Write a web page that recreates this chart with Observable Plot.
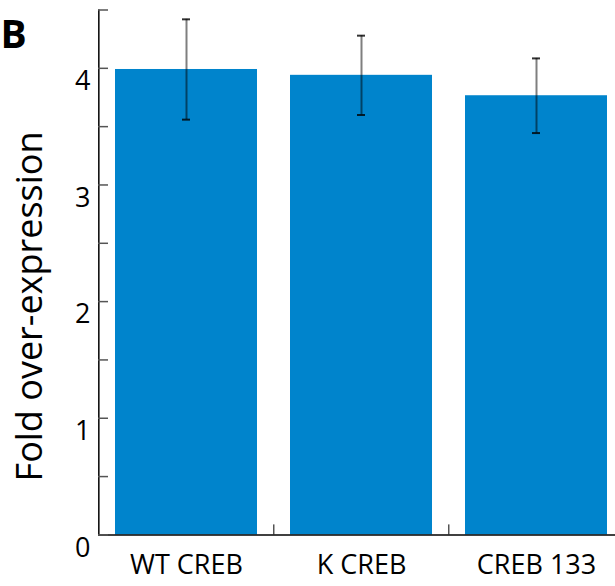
<!DOCTYPE html>
<html><head><meta charset="utf-8">
<script src="https://cdn.jsdelivr.net/npm/d3@7"></script>
<script src="https://cdn.jsdelivr.net/npm/@observablehq/plot@0.6"></script>
<style>html,body{margin:0;padding:0;background:#fff;overflow:hidden}</style>
</head><body><div id="chart"></div>
<script>
const categories = ["WT CREB", "K CREB", "CREB 133"];
const means = [3.99, 3.94, 3.765];
const errors = [0.43, 0.34, 0.32];
const yTickLabels = [0, 1, 2, 3, 4];
const yTicksAll = [0, 0.5, 1, 1.5, 2, 2.5, 3, 3.5, 4, 4.5];
const panelLabel = "B";
const yTitle = "Fold over-expression";

const data = categories.map((c, i) => ({category: c, value: means[i], lo: means[i] - errors[i], hi: means[i] + errors[i]}));

const W = 615, H = 586, mL = 98, mT = 9.5, mB = 51.6;
const xRange = [98, 624];
const step = (xRange[1] - xRange[0]) / categories.length;
const frameW = W - mL;
const tickLenUnits = 10 / ((H - mT - mB) / 4.5);

const chart = Plot.plot({
  width: W, height: H,
  marginLeft: mL, marginRight: 0, marginTop: mT, marginBottom: mB,
  style: {fontFamily: "Open Sans", fontSize: "26px", color: "black", background: "white"},
  x: {domain: categories, range: xRange, paddingInner: 0.19, paddingOuter: 0.095, label: null},
  y: {domain: [0, 4.5], label: null},
  marks: [
    Plot.barY(data, {x: "category", y: "value", fill: "#0084CC"}),
    Plot.ruleY([0], {stroke: "black", strokeWidth: 1.5}),
    Plot.ruleX(categories.slice(0, 1), {x: d => d, y1: 0, y2: 4.5, dx: -step / 2, stroke: "black", strokeWidth: 1.5}),
    Plot.ruleX(categories.slice(1), {x: d => d, y1: 0, y2: tickLenUnits, dx: -step / 2, stroke: "black"}),
    Plot.tickY(yTicksAll, {y: d => d, insetRight: frameW - 10, stroke: "#555", strokeWidth: 1.5}),
    Plot.ruleX(data, {x: "category", y1: "lo", y2: "hi", stroke: "black", strokeOpacity: 0.5, strokeWidth: 2}),
    Plot.tickY(data, {x: "category", y: "lo", insetLeft: 67, insetRight: 67, stroke: "black", strokeWidth: 2, strokeOpacity: 0.8}),
    Plot.tickY(data, {x: "category", y: "hi", insetLeft: 67, insetRight: 67, stroke: "black", strokeWidth: 2, strokeOpacity: 0.8}),
    Plot.axisY(yTickLabels, {tickSize: 0, tickPadding: 8, dy: 13, tickFormat: d3.format("d"), fontSize: 27}),
    Plot.axisX({tickSize: 0, tickPadding: 20, fontSize: 27}),
    Plot.text([yTitle], {frameAnchor: "left", dx: -68, dy: 34, rotate: -90, textAnchor: "middle", fontSize: 36}),
    Plot.text([panelLabel], {frameAnchor: "top-left", dx: -mL, dy: 10.5, textAnchor: "start", lineAnchor: "top", fontWeight: "bold", fontSize: 39})
  ]
});
document.getElementById("chart").append(chart);
</script>
</body></html>
